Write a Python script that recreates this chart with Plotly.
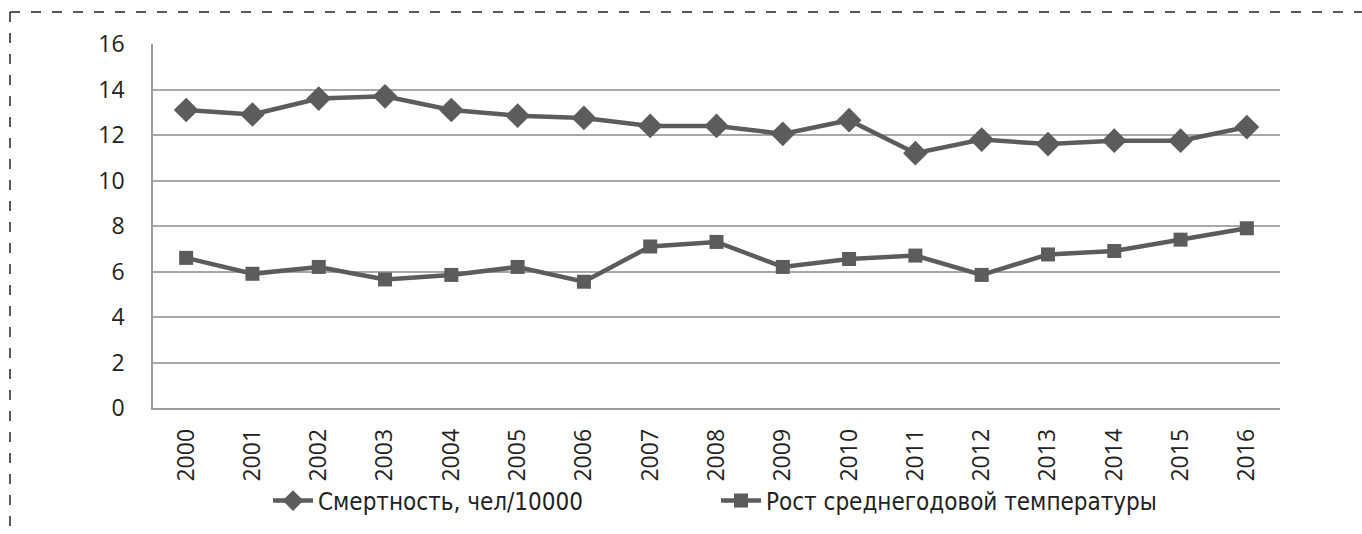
import plotly.graph_objects as go

years = [str(y) for y in range(2000, 2017)]
mortality = [13.1, 12.9, 13.6, 13.7, 13.1, 12.85, 12.75, 12.4, 12.4, 12.05,
             12.65, 11.2, 11.8, 11.6, 11.75, 11.75, 12.35]
temperature = [6.6, 5.9, 6.2, 5.65, 5.85, 6.2, 5.55, 7.1, 7.3, 6.2,
               6.55, 6.7, 5.85, 6.75, 6.9, 7.4, 7.9]
y_ticks = [0, 2, 4, 6, 8, 10, 12, 14, 16]

W, H = 1362, 534
L, R, T, B = 153, 82, 44, 125
pw, ph = W - L - R, H - T - B


def px(x):
    return (x - L) / pw


def py(y):
    return (H - B - y) / ph


line_col = "#5c5c5c"
fig = go.Figure()
fig.add_trace(go.Scatter(
    x=years, y=mortality, name="Смертность, чел/10000", mode="lines+markers",
    line=dict(color=line_col, width=4.5),
    marker=dict(symbol="diamond", size=19, color=line_col)))
fig.add_trace(go.Scatter(
    x=years, y=temperature, name="Рост среднегодовой температуры", mode="lines+markers",
    line=dict(color=line_col, width=4.5),
    marker=dict(symbol="square", size=14, color=line_col)))

# dashed frame around the chart
fig.add_shape(type="line", xref="paper", yref="paper",
              x0=px(10), y0=py(12), x1=px(W + 5), y1=py(12),
              line=dict(color="#222", width=1.5, dash="10px,11px"))
fig.add_shape(type="line", xref="paper", yref="paper",
              x0=px(10), y0=py(12), x1=px(10), y1=py(H + 5),
              line=dict(color="#222", width=1.5, dash="10px,11px"))

fig.update_layout(
    width=W, height=H,
    margin=dict(l=L, r=R, t=T, b=B),
    plot_bgcolor="white", paper_bgcolor="white",
    font=dict(family="Open Sans, sans-serif", color="#222"),
    showlegend=True,
    legend=dict(orientation="h", x=px(268), y=py(501), yanchor="middle", xanchor="left",
                font=dict(size=24, family="DejaVu Sans Condensed, Open Sans", color="#222"),
                entrywidth=393, itemwidth=40, bgcolor="rgba(0,0,0,0)"),
    xaxis=dict(type="category", range=[-0.5, 16.5], tickangle=-90,
               showgrid=False, showline=True, linecolor="#9a9a9a", linewidth=1.5,
               ticks="", tickfont=dict(size=23), ticklabelstandoff=10,
               fixedrange=True),
    yaxis=dict(range=[0, 16], tickvals=y_ticks, showgrid=True, gridcolor="#a8a8a8",
               gridwidth=1.5, showline=True, linecolor="#9a9a9a", linewidth=1.5,
               ticks="", ticklen=0, tickfont=dict(size=23),
               zeroline=False, fixedrange=True, ticklabelstandoff=22),
)

fig.write_html("out.html")
